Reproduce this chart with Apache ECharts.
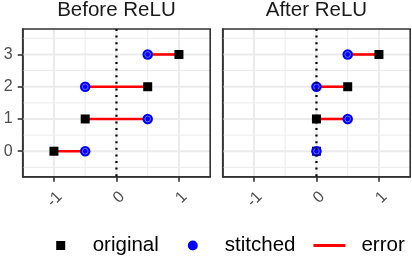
<!DOCTYPE html>
<html>
<head>
<meta charset="utf-8">
<script src="https://cdn.jsdelivr.net/npm/echarts@6/dist/echarts.min.js"></script>
<style>html,body{margin:0;padding:0;background:#fff;}#c{width:412px;height:258px;}</style>
</head>
<body>
<div id="c"></div>
<script>
// ---- data ----
const categories = [0, 1, 2, 3];
const panelTitles = ['Before ReLU', 'After ReLU'];
const beforeOriginal = [-1, -0.5, 0.5, 1];
const beforeStitched = [-0.5, 0.5, -0.5, 0.5];
const afterOriginal = [0, 0, 0.5, 1];
const afterStitched = [0, 0.5, 0, 0.5];
const xTickValues = [-1, 0, 1];
const yTickValues = [0, 1, 2, 3];
const xMinorGrid = [-0.5, 0.5];
const yMinorGrid = [-0.5, 0.5, 1.5, 2.5, 3.5];
const legendNames = ['original', 'stitched', 'error'];

const FONT = "'Liberation Sans', Arial, sans-serif";
const X_MIN = -1.5, X_MAX = 1.5, Y_MIN = -0.79, Y_MAX = 3.79;
// legend icons share a 43x10 bounding box (invisible corner points keep the box)
const PAD = 'M0,0L0.01,0M43,10L42.99,10';
const ICON_SQUARE = 'path://' + PAD + 'M11.5,0.5H20.5V9.5H11.5Z';
const ICON_CIRCLE = 'path://' + PAD + 'M16,0A5,5 0 1,1 16,10A5,5 0 1,1 16,0Z';
const ICON_LINE = 'path://' + PAD + 'M0,3.5H32V6.5H0Z';

const panels = [
  { orig: beforeOriginal, stit: beforeStitched, left: 22.7 },
  { orig: afterOriginal, stit: afterStitched, left: 222.7 }
];

const grids = [], xAxes = [], yAxes = [], series = [], graphics = [];

function vLines(vals, idx, width, color, dash, z) {
  return {
    type: 'custom', xAxisIndex: idx, yAxisIndex: idx, silent: true, z: z,
    data: vals.map(v => [v, 0]),
    encode: { x: 0, y: 1 },
    renderItem: function (params, api) {
      const cs = params.coordSys;
      const x = api.coord([api.value(0), 0])[0];
      return { type: 'line', shape: { x1: x, y1: cs.y, x2: x, y2: cs.y + cs.height },
        style: { stroke: color, lineWidth: width, lineDash: dash || null, lineCap: 'butt' } };
    }
  };
}
function hLines(vals, idx, width, color, z) {
  return {
    type: 'custom', xAxisIndex: idx, yAxisIndex: idx, silent: true, z: z,
    data: vals.map(v => [0, v]),
    encode: { x: 0, y: 1 },
    renderItem: function (params, api) {
      const cs = params.coordSys;
      const y = api.coord([0, api.value(1)])[1];
      return { type: 'line', shape: { x1: cs.x, y1: y, x2: cs.x + cs.width, y2: y },
        style: { stroke: color, lineWidth: width } };
    }
  };
}

const AXIS_LINE = { show: true, onZero: false, lineStyle: { color: '#333333', width: 1.6 } };

panels.forEach((p, i) => {
  grids.push({ left: p.left, top: 29, width: 187.5, height: 147.7, show: true,
    borderColor: '#333333', borderWidth: 1.6, backgroundColor: 'transparent', z: 5 });
  xAxes.push({
    type: 'value', gridIndex: i, min: X_MIN, max: X_MAX, position: 'bottom',
    splitLine: { show: false }, axisLine: AXIS_LINE,
    axisTick: { show: true, customValues: xTickValues, length: 5, lineStyle: { color: '#333333', width: 1.6 } },
    axisLabel: { show: true, customValues: xTickValues, rotate: 45, align: 'right', verticalAlign: 'top',
      margin: 12, fontSize: 16, color: '#4d4d4d', fontFamily: FONT }
  });
  yAxes.push({
    type: 'value', gridIndex: i, min: Y_MIN, max: Y_MAX, position: 'left',
    splitLine: { show: false }, axisLine: AXIS_LINE,
    axisTick: { show: i === 0, customValues: yTickValues, length: 5, lineStyle: { color: '#333333', width: 1.6 } },
    axisLabel: { show: i === 0, customValues: yTickValues, margin: 10, fontSize: 16, color: '#4d4d4d', fontFamily: FONT }
  });
  series.push(vLines(xMinorGrid, i, 1, '#ebebeb', null, 1));
  series.push(hLines(yMinorGrid, i, 1, '#ebebeb', 1));
  series.push(vLines(xTickValues, i, 2, '#ebebeb', null, 1));
  series.push(hLines(yTickValues, i, 2, '#ebebeb', 1));
  series.push({
    name: 'error', type: 'custom', xAxisIndex: i, yAxisIndex: i, z: 3,
    itemStyle: { color: '#ff0000' },
    data: categories.map((c, k) => [p.orig[k], p.stit[k], c]),
    encode: { x: [0, 1], y: 2 },
    renderItem: function (params, api) {
      const a = api.coord([api.value(0), api.value(2)]);
      const b = api.coord([api.value(1), api.value(2)]);
      return { type: 'line', shape: { x1: a[0], y1: a[1], x2: b[0], y2: b[1] },
        style: { stroke: '#ff0000', lineWidth: 2.6 } };
    }
  });
  series.push({
    name: 'original', type: 'scatter', xAxisIndex: i, yAxisIndex: i, z: 4,
    symbol: 'rect', symbolSize: 9, itemStyle: { color: '#000000', opacity: 1 },
    data: categories.map((c, k) => [p.orig[k], c])
  });
  series.push({
    name: 'stitched', type: 'scatter', xAxisIndex: i, yAxisIndex: i, z: 5,
    symbol: 'circle', symbolSize: 10.5, itemStyle: { color: '#0000ff', opacity: 1 },
    data: categories.map((c, k) => [p.stit[k], c])
  });
  series.push({
    name: 'stitched', type: 'scatter', xAxisIndex: i, yAxisIndex: i, z: 5, silent: true,
    symbol: 'circle', symbolSize: 5.6,
    itemStyle: { color: 'rgba(0,0,0,0)', borderColor: '#8c8cff', borderWidth: 0.8, opacity: 1 },
    data: categories.map((c, k) => [p.stit[k], c])
  });
  series.push(vLines([0], i, 2.2, '#000000', [2, 4.6], 6));
  graphics.push({ type: 'text', x: p.left + 187.5 / 2, y: 10.5,
    style: { text: panelTitles[i], fontSize: 20.5, fontFamily: FONT, fill: '#1a1a1a', align: 'center', verticalAlign: 'middle' } });
});

const chart = echarts.init(document.getElementById('c'), null, { renderer: 'canvas' });
chart.setOption({
  animation: false,
  backgroundColor: '#ffffff',
  grid: grids, xAxis: xAxes, yAxis: yAxes, series: series, graphic: graphics,
  legend: {
    left: 44.7, top: 235, padding: 0, orient: 'horizontal',
    itemWidth: 43, itemHeight: 10, itemGap: 18,
    textStyle: { fontSize: 20.5, color: '#000000', fontFamily: FONT },
    data: [
      { name: legendNames[0], icon: ICON_SQUARE },
      { name: legendNames[1], icon: ICON_CIRCLE },
      { name: legendNames[2], icon: ICON_LINE }
    ]
  }
});
</script>
</body>
</html>
